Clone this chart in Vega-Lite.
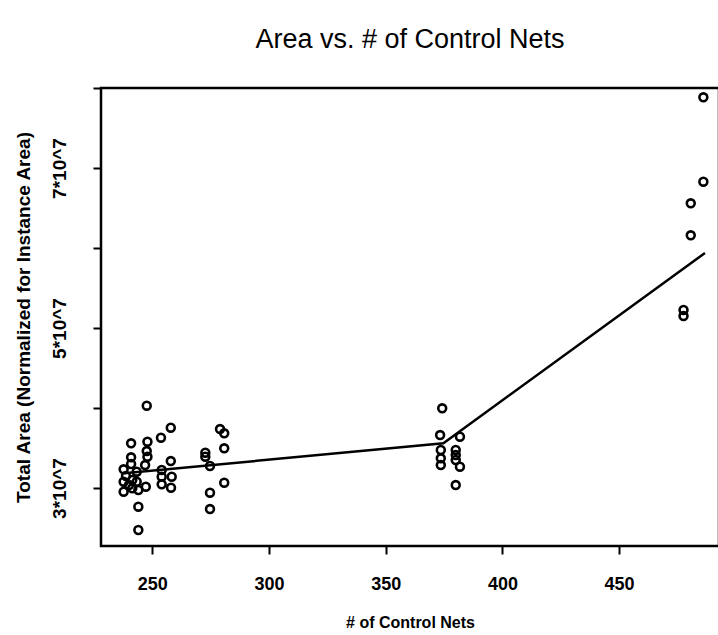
{
  "$schema": "https://vega.github.io/schema/vega-lite/v6.json",
  "width": 618,
  "height": 458,
  "autosize": {"type": "none"},
  "padding": {"left": 101, "top": 88, "right": 0, "bottom": 89},
  "background": "white",
  "title": {"text": "Area vs. # of Control Nets", "font": "Liberation Sans", "fontSize": 27, "fontWeight": "normal", "color": "black", "anchor": "middle", "baseline": "alphabetic", "offset": 12},
  "config": {
    "view": {"stroke": "black", "strokeWidth": 2.5},
    "axis": {"grid": false, "domain": false, "tickColor": "black", "tickWidth": 2, "labelColor": "black", "titleColor": "black", "labelFont": "Liberation Sans", "titleFont": "Liberation Sans", "labelFontWeight": "bold", "titleFontWeight": "bold"}
  },
  "datasets": {
    "pts": [
      {"nets": 247.6, "area": 40290000}, {"nets": 240.9, "area": 35590000}, {"nets": 247.9, "area": 35790000},
      {"nets": 247.6, "area": 34620000}, {"nets": 240.9, "area": 33840000}, {"nets": 247.9, "area": 33910000},
      {"nets": 240.9, "area": 33000000}, {"nets": 237.7, "area": 32340000}, {"nets": 246.9, "area": 32870000},
      {"nets": 243.3, "area": 32040000}, {"nets": 237.7, "area": 30790000}, {"nets": 241.4, "area": 31000000},
      {"nets": 243.3, "area": 30790000}, {"nets": 237.7, "area": 29540000}, {"nets": 241.4, "area": 29960000},
      {"nets": 244.0, "area": 29750000}, {"nets": 247.2, "area": 30160000}, {"nets": 244.0, "area": 27660000},
      {"nets": 244.0, "area": 24750000}, {"nets": 240.0, "area": 30370000}, {"nets": 238.7, "area": 31500000},
      {"nets": 257.9, "area": 37540000}, {"nets": 253.7, "area": 36290000}, {"nets": 257.9, "area": 33370000},
      {"nets": 254.0, "area": 32250000}, {"nets": 254.0, "area": 31410000}, {"nets": 258.3, "area": 31410000},
      {"nets": 254.0, "area": 30460000}, {"nets": 258.0, "area": 30040000},
      {"nets": 272.7, "area": 34410000}, {"nets": 272.7, "area": 33910000}, {"nets": 274.7, "area": 32750000},
      {"nets": 279.0, "area": 37370000}, {"nets": 280.8, "area": 36840000}, {"nets": 280.8, "area": 34960000},
      {"nets": 280.8, "area": 30660000}, {"nets": 274.7, "area": 29410000}, {"nets": 274.7, "area": 27370000},
      {"nets": 374.2, "area": 39960000}, {"nets": 373.3, "area": 36620000}, {"nets": 381.8, "area": 36410000},
      {"nets": 373.6, "area": 34750000}, {"nets": 373.6, "area": 33710000}, {"nets": 373.6, "area": 32870000},
      {"nets": 380.0, "area": 34750000}, {"nets": 380.0, "area": 34120000}, {"nets": 380.0, "area": 33500000},
      {"nets": 381.8, "area": 32660000}, {"nets": 380.0, "area": 30370000},
      {"nets": 486.1, "area": 78840000}, {"nets": 486.1, "area": 68290000}, {"nets": 480.7, "area": 65590000},
      {"nets": 480.7, "area": 61590000}, {"nets": 477.6, "area": 52250000}, {"nets": 477.6, "area": 51500000}
    ],
    "fit": [
      {"nets": 237.9, "area": 31840000},
      {"nets": 374.7, "area": 35590000},
      {"nets": 486.8, "area": 59380000}
    ]
  },
  "layer": [
    {
      "data": {"name": "pts"},
      "mark": {"type": "point", "shape": "circle", "filled": false, "stroke": "black", "strokeWidth": 2.6, "size": 62, "opacity": 1},
      "encoding": {
        "x": {"field": "nets", "type": "quantitative", "scale": {"domain": [228, 492.8], "nice": false, "zero": false},
          "axis": {"title": "# of Control Nets", "values": [250, 300, 350, 400, 450], "tickSize": 8, "labelFontSize": 18, "labelPadding": 21, "titleFontSize": 16, "titlePadding": 21}},
        "y": {"field": "area", "type": "quantitative", "scale": {"domain": [22750000, 80000000], "nice": false, "zero": false},
          "axis": {"title": "Total Area (Normalized for Instance Area)", "values": [30000000, 40000000, 50000000, 60000000, 70000000, 80000000],
            "labelExpr": "(datum.value/10000000) % 2 == 1 ? format(datum.value/10000000, 'd') + '*10^7' : ''",
            "labelAngle": 270, "labelAlign": "center", "labelBaseline": "bottom", "tickSize": 8, "labelFontSize": 19, "labelPadding": 24, "titleFontSize": 19, "titlePadding": 17}}
      }
    },
    {
      "data": {"name": "fit"},
      "mark": {"type": "line", "color": "black", "strokeWidth": 2.5},
      "encoding": {
        "x": {"field": "nets", "type": "quantitative"},
        "y": {"field": "area", "type": "quantitative"}
      }
    }
  ]
}
